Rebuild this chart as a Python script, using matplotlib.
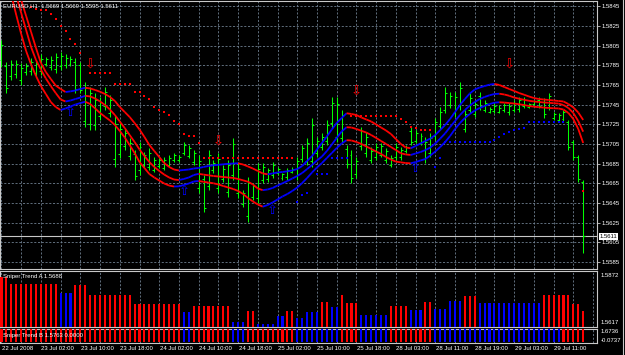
import matplotlib
matplotlib.use("Agg")
import matplotlib.pyplot as plt
import matplotlib.transforms as mtransforms
from matplotlib.collections import LineCollection
from matplotlib.lines import Line2D

# === EURUSD H1, 22 Jul 2008 18:00 .. 29 Jul 17:00 (119 bars) ===
bar_high = [1.5811, 1.5788, 1.5790, 1.5790, 1.5787, 1.5787, 1.5792, 1.5790, 1.5796, 1.5793,
            1.5794, 1.5798, 1.5799, 1.5796, 1.5794, 1.5792, 1.5788, 1.5768, 1.5763, 1.5757,
            1.5753, 1.5763, 1.5755, 1.5734, 1.5726, 1.5721, 1.5711, 1.5699, 1.5707, 1.5697,
            1.5701, 1.5692, 1.5691, 1.5692, 1.5694, 1.5696, 1.5694, 1.5707, 1.5704, 1.5699,
            1.5694, 1.5673, 1.5699, 1.5689, 1.5696, 1.5684, 1.5689, 1.5711, 1.5686, 1.5658,
            1.5671, 1.5665, 1.5686, 1.5686, 1.5681, 1.5687, 1.5682, 1.5675, 1.5681, 1.5682,
            1.5692, 1.5704, 1.5711, 1.5731, 1.5712, 1.5716, 1.5729, 1.5753, 1.5753, 1.5740,
            1.5704, 1.5699, 1.5692, 1.5722, 1.5717, 1.5702, 1.5706, 1.5706, 1.5701, 1.5694,
            1.5706, 1.5702, 1.5704, 1.5722, 1.5719, 1.5716, 1.5712, 1.5716, 1.5731, 1.5743,
            1.5763, 1.5758, 1.5758, 1.5768, 1.5740, 1.5757, 1.5750, 1.5758, 1.5750, 1.5743,
            1.5747, 1.5745, 1.5747, 1.5747, 1.5750, 1.5753, 1.5753, 1.5747, 1.5750, 1.5753,
            1.5752, 1.5757, 1.5737, 1.5736, 1.5740, 1.5729, 1.5709, 1.5694, 1.5668]
bar_low = [1.5783, 1.5757, 1.5770, 1.5772, 1.5765, 1.5775, 1.5775, 1.5773, 1.5775, 1.5784,
           1.5780, 1.5777, 1.5780, 1.5782, 1.5784, 1.5757, 1.5757, 1.5722, 1.5719, 1.5719,
           1.5729, 1.5740, 1.5732, 1.5682, 1.5691, 1.5699, 1.5689, 1.5668, 1.5673, 1.5681,
           1.5678, 1.5676, 1.5681, 1.5678, 1.5682, 1.5687, 1.5687, 1.5694, 1.5691, 1.5684,
           1.5655, 1.5636, 1.5658, 1.5675, 1.5655, 1.5666, 1.5651, 1.5668, 1.5650, 1.5641,
           1.5626, 1.5648, 1.5645, 1.5665, 1.5666, 1.5670, 1.5673, 1.5668, 1.5668, 1.5675,
           1.5668, 1.5687, 1.5684, 1.5682, 1.5692, 1.5699, 1.5704, 1.5721, 1.5707, 1.5706,
           1.5681, 1.5665, 1.5670, 1.5699, 1.5692, 1.5686, 1.5689, 1.5692, 1.5686, 1.5682,
           1.5689, 1.5689, 1.5696, 1.5704, 1.5706, 1.5704, 1.5686, 1.5692, 1.5709, 1.5719,
           1.5736, 1.5742, 1.5732, 1.5740, 1.5717, 1.5736, 1.5732, 1.5740, 1.5737, 1.5736,
           1.5736, 1.5736, 1.5737, 1.5734, 1.5737, 1.5737, 1.5742, 1.5742, 1.5745, 1.5742,
           1.5731, 1.5740, 1.5729, 1.5727, 1.5727, 1.5699, 1.5689, 1.5666, 1.5594]
bar_open = [1.5790, 1.5784, 1.5774, 1.5776, 1.5770, 1.5778, 1.5779, 1.5777, 1.5779, 1.5786,
            1.5783, 1.5781, 1.5784, 1.5785, 1.5786, 1.5788, 1.5785, 1.5728, 1.5725, 1.5724,
            1.5733, 1.5744, 1.5736, 1.5690, 1.5695, 1.5703, 1.5693, 1.5695, 1.5678, 1.5684,
            1.5682, 1.5679, 1.5683, 1.5681, 1.5684, 1.5689, 1.5689, 1.5696, 1.5693, 1.5687,
            1.5660, 1.5669, 1.5662, 1.5678, 1.5660, 1.5669, 1.5656, 1.5673, 1.5655, 1.5644,
            1.5632, 1.5651, 1.5650, 1.5668, 1.5669, 1.5673, 1.5675, 1.5670, 1.5671, 1.5676,
            1.5672, 1.5690, 1.5688, 1.5688, 1.5696, 1.5702, 1.5708, 1.5726, 1.5712, 1.5711,
            1.5700, 1.5694, 1.5674, 1.5703, 1.5696, 1.5689, 1.5692, 1.5694, 1.5689, 1.5684,
            1.5692, 1.5692, 1.5698, 1.5718, 1.5708, 1.5706, 1.5690, 1.5696, 1.5713, 1.5723,
            1.5740, 1.5745, 1.5736, 1.5744, 1.5720, 1.5740, 1.5735, 1.5754, 1.5740, 1.5738,
            1.5739, 1.5738, 1.5740, 1.5737, 1.5740, 1.5741, 1.5744, 1.5743, 1.5746, 1.5750,
            1.5748, 1.5743, 1.5731, 1.5729, 1.5730, 1.5727, 1.5707, 1.5692, 1.5666]
bar_close = [1.5806, 1.5762, 1.5786, 1.5786, 1.5782, 1.5784, 1.5788, 1.5786, 1.5791, 1.5791,
             1.5790, 1.5793, 1.5794, 1.5792, 1.5791, 1.5761, 1.5760, 1.5762, 1.5757, 1.5750,
             1.5748, 1.5758, 1.5750, 1.5725, 1.5720, 1.5716, 1.5706, 1.5672, 1.5702, 1.5694,
             1.5696, 1.5689, 1.5689, 1.5689, 1.5691, 1.5694, 1.5692, 1.5704, 1.5701, 1.5696,
             1.5688, 1.5640, 1.5694, 1.5686, 1.5690, 1.5680, 1.5684, 1.5705, 1.5680, 1.5655,
             1.5665, 1.5662, 1.5680, 1.5682, 1.5678, 1.5684, 1.5680, 1.5674, 1.5678, 1.5680,
             1.5688, 1.5701, 1.5706, 1.5724, 1.5708, 1.5712, 1.5724, 1.5747, 1.5746, 1.5734,
             1.5685, 1.5670, 1.5688, 1.5718, 1.5712, 1.5698, 1.5702, 1.5703, 1.5698, 1.5691,
             1.5702, 1.5699, 1.5702, 1.5707, 1.5716, 1.5713, 1.5707, 1.5711, 1.5727, 1.5738,
             1.5757, 1.5754, 1.5753, 1.5762, 1.5735, 1.5752, 1.5746, 1.5744, 1.5747, 1.5741,
             1.5744, 1.5742, 1.5745, 1.5744, 1.5747, 1.5750, 1.5750, 1.5746, 1.5749, 1.5744,
             1.5735, 1.5754, 1.5735, 1.5734, 1.5737, 1.5702, 1.5692, 1.5669, 1.5611]

# === bands of the trend indicator ===
band_upper = [1.59226, 1.59043, 1.58860, 1.58687, 1.58514, 1.58351, 1.58189, 1.58026, 1.57873, 1.57782,
              1.57711, 1.57644, 1.57609, 1.57578, 1.57585, 1.57594, 1.57609, 1.57622, 1.57614, 1.57599,
              1.57581, 1.57558, 1.57528, 1.57487, 1.57426, 1.57375, 1.57324, 1.57263, 1.57197, 1.57121,
              1.57039, 1.56978, 1.56917, 1.56856, 1.56816, 1.56790, 1.56780, 1.56785, 1.56790, 1.56800,
              1.56805, 1.56816, 1.56826, 1.56833, 1.56838, 1.56843, 1.56848, 1.56851, 1.56853, 1.56841,
              1.56821, 1.56800, 1.56775, 1.56750, 1.56741, 1.56750, 1.56760, 1.56765, 1.56772, 1.56780,
              1.56795, 1.56826, 1.56877, 1.56927, 1.56994, 1.57060, 1.57126, 1.57197, 1.57263, 1.57314,
              1.57362, 1.57355, 1.57344, 1.57319, 1.57299, 1.57278, 1.57248, 1.57217, 1.57187, 1.57151,
              1.57100, 1.57050, 1.57014, 1.57006, 1.57029, 1.57055, 1.57080, 1.57105, 1.57141, 1.57192,
              1.57243, 1.57304, 1.57375, 1.57446, 1.57507, 1.57563, 1.57604, 1.57624, 1.57639, 1.57653,
              1.57660, 1.57650, 1.57629, 1.57609, 1.57589, 1.57568, 1.57551, 1.57533, 1.57517, 1.57507,
              1.57502, 1.57497, 1.57492, 1.57487, 1.57482, 1.57456, 1.57421, 1.57370, 1.57294]
band_mid = [1.59073, 1.58900, 1.58728, 1.58555, 1.58382, 1.58209, 1.58036, 1.57904, 1.57807, 1.57716,
            1.57639, 1.57568, 1.57502, 1.57482, 1.57492, 1.57507, 1.57522, 1.57540, 1.57533, 1.57512,
            1.57482, 1.57446, 1.57400, 1.57344, 1.57278, 1.57212, 1.57141, 1.57070, 1.56994, 1.56927,
            1.56866, 1.56816, 1.56775, 1.56739, 1.56709, 1.56688, 1.56683, 1.56694, 1.56709, 1.56734,
            1.56746, 1.56738, 1.56731, 1.56724, 1.56719, 1.56714, 1.56709, 1.56704, 1.56694, 1.56680,
            1.56666, 1.56638, 1.56597, 1.56580, 1.56587, 1.56602, 1.56627, 1.56650, 1.56673, 1.56699,
            1.56724, 1.56755, 1.56795, 1.56836, 1.56882, 1.56922, 1.56978, 1.57044, 1.57111, 1.57177,
            1.57220, 1.57217, 1.57202, 1.57184, 1.57166, 1.57141, 1.57111, 1.57080, 1.57050, 1.57019,
            1.56988, 1.56955, 1.56943, 1.56938, 1.56953, 1.56968, 1.56988, 1.57014, 1.57055, 1.57105,
            1.57158, 1.57222, 1.57283, 1.57344, 1.57395, 1.57441, 1.57477, 1.57507, 1.57528, 1.57545,
            1.57558, 1.57561, 1.57553, 1.57540, 1.57522, 1.57510, 1.57499, 1.57489, 1.57482, 1.57477,
            1.57472, 1.57469, 1.57464, 1.57461, 1.57446, 1.57416, 1.57365, 1.57283, 1.57175]
band_lower = [1.58972, 1.58768, 1.58565, 1.58361, 1.58168, 1.57995, 1.57858, 1.57741, 1.57639, 1.57558,
              1.57477, 1.57426, 1.57395, 1.57411, 1.57431, 1.57451, 1.57466, 1.57479, 1.57456, 1.57411,
              1.57365, 1.57326, 1.57289, 1.57243, 1.57182, 1.57116, 1.57039, 1.56958, 1.56866, 1.56805,
              1.56744, 1.56709, 1.56678, 1.56648, 1.56627, 1.56617, 1.56619, 1.56633, 1.56648, 1.56668,
              1.56673, 1.56665, 1.56658, 1.56650, 1.56638, 1.56622, 1.56607, 1.56592, 1.56572, 1.56541,
              1.56500, 1.56465, 1.56434, 1.56412, 1.56429, 1.56455, 1.56485, 1.56516, 1.56541, 1.56572,
              1.56607, 1.56653, 1.56704, 1.56760, 1.56811, 1.56856, 1.56907, 1.56958, 1.57009, 1.57055,
              1.57088, 1.57085, 1.57070, 1.57050, 1.57024, 1.56999, 1.56973, 1.56948, 1.56917, 1.56892,
              1.56870, 1.56863, 1.56856, 1.56853, 1.56866, 1.56882, 1.56897, 1.56933, 1.56973, 1.57019,
              1.57070, 1.57131, 1.57202, 1.57263, 1.57314, 1.57355, 1.57390, 1.57416, 1.57436, 1.57456,
              1.57470, 1.57474, 1.57471, 1.57466, 1.57461, 1.57454, 1.57446, 1.57436, 1.57429, 1.57424,
              1.57420, 1.57416, 1.57413, 1.57411, 1.57400, 1.57365, 1.57304, 1.57202, 1.57060]

# === trailing stop dots ===
stop_dn_idx = [6, 7, 8, 9, 10, 11, 12, 13, 14, 15, 16,
               18, 19, 20, 21, 22, 23, 24, 25, 26, 27, 28,
               29, 30, 31, 32, 33, 34, 35, 36, 37, 38, 39, 40,
               41, 42, 43, 44, 45, 46, 47, 48, 49, 50, 51, 52, 53, 54, 55, 56, 57, 58, 59,
               71, 72, 73, 74, 75, 76, 77, 78, 79, 80, 81, 82, 83, 84, 85, 86, 87, 118]
stop_dn = [1.58446, 1.58419, 1.58412, 1.58412, 1.58369, 1.58321, 1.58253, 1.58202, 1.58122, 1.58063, 1.57978,
           1.57775, 1.57775, 1.57775, 1.57775, 1.57775, 1.57657, 1.57657, 1.57657, 1.57657, 1.57575, 1.57575,
           1.57538, 1.57507, 1.57429, 1.57395, 1.57378, 1.57344, 1.57286, 1.57250, 1.57156, 1.57134, 1.57134, 1.57057,
           1.56904, 1.56904, 1.56904, 1.56904, 1.56904, 1.56904, 1.56904, 1.56904, 1.56904, 1.56904,
           1.56904, 1.56904, 1.56904, 1.56904, 1.56904, 1.56904, 1.56904, 1.56904, 1.56904,
           1.57334, 1.57334, 1.57334, 1.57334, 1.57334, 1.57334, 1.57334, 1.57334, 1.57334,
           1.57331, 1.57301, 1.57278, 1.57225, 1.57209, 1.57192, 1.57192, 1.57192, 1.56572]
stop_up_idx = [60, 61, 62, 64, 65, 66, 67, 68, 69, 70,
               88, 89, 90, 91, 92, 93, 94, 95, 96, 97, 98, 99,
               100, 101, 102, 103, 104, 105, 106, 107, 108, 109, 110, 111, 112, 113, 114]
stop_up = [1.56463, 1.56534, 1.56554, 1.56744, 1.56744, 1.56744, 1.56910, 1.56910, 1.56910, 1.56910,
           1.56819, 1.56904, 1.57073, 1.57073, 1.57073, 1.57073, 1.57073, 1.57073, 1.57073, 1.57073, 1.57073, 1.57073,
           1.57090, 1.57118, 1.57151, 1.57169, 1.57192, 1.57202, 1.57215, 1.57276, 1.57276, 1.57276,
           1.57276, 1.57276, 1.57276, 1.57276, 1.57276]

# === signal arrows ===
sell_idx = [18, 44, 72, 103]
sell_px = [1.57853, 1.57073, 1.57581, 1.57853]
buy_idx = [14, 37, 55, 84]
buy_px = [1.57368, 1.56564, 1.56378, 1.56802]

# === sub windows ===
trend_a_val = [1.5846, 1.5846, 1.5812, 1.5812, 1.5812, 1.5812, 1.5812, 1.5812, 1.5812, 1.5812,
               1.5812, 1.5812, 1.5773, 1.5773, 1.5773, 1.5807, 1.5807, 1.5807, 1.5764, 1.5764,
               1.5764, 1.5764, 1.5764, 1.5764, 1.5764, 1.5764, 1.5764, 1.5719, 1.5719, 1.5719,
               1.5719, 1.5719, 1.5719, 1.5719, 1.5719, 1.5719, 1.5719, 1.5683, 1.5683, 1.5710,
               1.5710, 1.5710, 1.5710, 1.5710, 1.5710, 1.5710, 1.5710, 1.5639, 1.5639, 1.5639,
               1.5686, 1.5686, 1.5627, 1.5627, 1.5627, 1.5627, 1.5665, 1.5665, 1.5688, 1.5688,
               1.5657, 1.5657, 1.5682, 1.5682, 1.5682, 1.5728, 1.5728, 1.5705, 1.5705, 1.5762,
               1.5725, 1.5725, 1.5725, 1.5668, 1.5668, 1.5668, 1.5668, 1.5668, 1.5668, 1.5710,
               1.5710, 1.5710, 1.5710, 1.5691, 1.5691, 1.5691, 1.5728, 1.5728, 1.5699, 1.5699,
               1.5699, 1.5733, 1.5733, 1.5733, 1.5756, 1.5756, 1.5756, 1.5725, 1.5725, 1.5725,
               1.5725, 1.5725, 1.5725, 1.5725, 1.5725, 1.5725, 1.5725, 1.5725, 1.5725, 1.5725,
               1.5761, 1.5761, 1.5761, 1.5761, 1.5761, 1.5761, 1.5722, 1.5722, 1.5688]
trend_a_dir = ("dddddddddddd" "uuu" "dddddddddddddddddddddd" "uu" "dddddddd" "uuu" "dd"
               "uuuuuu" "dd" "uuuuu" "dd" "uu" "dddd" "uuuuuu" "dddd" "uuu" "dd" "uuuuuu"
               "ddd" "uuuuuuuuuuuuu" "ddddddddd")
trend_b_dir = ("ddddddddddddddddddddddddddddddddddddd" "uu" "dddddddd" "uuu" "dddddddddd"
               "uuuuuuuuu" "dddd" "uuuuuu" "ddddddddd" "uuuuuuuuuuuuuuuuuuuuuuuuuu" "ddddd")

price_levels = [1.5585, 1.5605, 1.5625, 1.5645, 1.5665, 1.5685, 1.5705, 1.5725,
                1.5745, 1.5765, 1.5785, 1.5805, 1.5825, 1.5845]
time_idx = [0, 8, 16, 24, 32, 40, 48, 56, 64, 72, 80, 88, 96, 104, 112]
time_labels = ["22 Jul 2008", "23 Jul 02:00", "23 Jul 10:00", "23 Jul 18:00", "24 Jul 02:00",
               "24 Jul 10:00", "24 Jul 18:00", "25 Jul 02:00", "25 Jul 10:00", "25 Jul 18:00",
               "28 Jul 03:00", "28 Jul 11:00", "28 Jul 19:00", "29 Jul 03:00", "29 Jul 11:00"]

# === estilo ===
RED, BLUE, LIME = "#ff0000", "#0000ff", "#00ff00"
GRID = "#6f7f90"
FRAME = "#c8c8c8"
FS = 4.3
plt.rcParams["font.family"] = ["Liberation Sans", "DejaVu Sans"]

W, H = 625, 355
fig = plt.figure(figsize=(W / 100, H / 100), dpi=100, facecolor="black")

def axes_px(x0, y0, x1, y1):
    return fig.add_axes([x0 / W, 1 - y1 / H, (x1 - x0) / W, (y1 - y0) / H])

ax = axes_px(0, 1, 597, 269)
ax1 = axes_px(0, 271, 597, 326.5)
ax2 = axes_px(0, 328.5, 597, 343)
n = len(bar_close)
xs = list(range(n))

for a in (ax, ax1, ax2):
    a.set_facecolor("black")
    a.set_xlim(-0.3, 120.8)
    for s in a.spines.values():
        s.set_color(FRAME)
        s.set_linewidth(0.8)
    a.tick_params(left=False, bottom=False, labelleft=False, labelbottom=False)
    for gx in range(0, 121, 4):
        a.axvline(gx, color=GRID, lw=0.6, ls=(0, (2.5, 2)), zorder=0)

# --- main window ---
ax.set_ylim(1.55778, 1.58504)
for lv in price_levels:
    ax.axhline(lv, color=GRID, lw=0.6, ls=(0, (2.5, 2)), zorder=0)
ax.yaxis.tick_right()
ax.set_yticks(price_levels)
ax.set_yticklabels([f"{v:.4f}" for v in price_levels])
ax.tick_params(axis="y", right=True, labelright=True, length=2, width=0.6,
               color=FRAME, labelcolor="white", labelsize=FS, pad=1.5)

# price bars
ax.vlines(xs, bar_low, bar_high, color=LIME, lw=0.75, zorder=3)
ax.hlines(bar_open, [x - 0.4 for x in xs], xs, color=LIME, lw=0.75, zorder=3)
ax.hlines(bar_close, xs, [x + 0.4 for x in xs], color=LIME, lw=0.75, zorder=3)

# bands coloured by slope
for band in (band_upper, band_mid, band_lower):
    segs, cols = [], []
    for i in range(1, n):
        segs.append([(i - 1, band[i - 1]), (i, band[i])])
        cols.append(BLUE if band[i] > band[i - 1] else RED)
    ax.add_collection(LineCollection(segs, colors=cols, linewidths=1.3, zorder=4))

ax.plot(stop_dn_idx, stop_dn, "s", color=RED, ms=1.6, mew=0, zorder=5)
ax.plot(stop_up_idx, stop_up, "s", color=BLUE, ms=1.6, mew=0, zorder=5)

for i, p in zip(sell_idx, sell_px):
    ax.text(i, p, "\u21e9", color=RED, fontsize=9.5, ha="center", va="center",
            family="DejaVu Sans", zorder=6)
for i, p in zip(buy_idx, buy_px):
    ax.text(i, p, "\u21e7", color=BLUE, fontsize=9.5, ha="center", va="center",
            family="DejaVu Sans", zorder=6)

# current price line + label
last = bar_close[-1]
ax.axhline(last, color=FRAME, lw=0.8, zorder=2)
ax.text(1.004, last, f"{last:.4f}", transform=ax.get_yaxis_transform(),
        color="black", fontsize=FS, va="center", ha="left",
        bbox=dict(fc="white", ec="none", pad=0.6), zorder=7, clip_on=False)

fig.text(3 / W, 1 - 6 / H, "EURUSD,H1  1.5669 1.5669 1.5595 1.5611",
         color="white", fontsize=FS, va="center", ha="left")

# --- Sniper Trend A ---
ya0, ya1 = 1.5617, 1.5872
ax1.set_ylim(ya0, ya1)
ax1.bar(xs, [v - ya0 for v in trend_a_val], bottom=ya0, width=0.42,
        color=[RED if d == "d" else BLUE for d in trend_a_dir], zorder=3)
ax1.text(0.005, 0.94, f"Sniper Trend A {trend_a_val[-1]:.4f}", transform=ax1.transAxes,
         color="white", fontsize=FS, va="top", ha="left", zorder=6)
ax1.text(1.006, 0.97, f"{ya1:.4f}", transform=ax1.transAxes, color="white",
         fontsize=FS, va="top", ha="left")
ax1.text(1.006, 0.03, f"{ya0:.4f}", transform=ax1.transAxes, color="white",
         fontsize=FS, va="bottom", ha="left")

# --- Sniper Trend B ---
yb0, yb1 = -0.0737, 1.6736
ax2.set_ylim(yb0, yb1)
ax2.bar(xs, trend_a_val, width=0.42,
        color=[RED if d == "d" else BLUE for d in trend_b_dir], zorder=3)
ax2.text(0.005, 0.55, "Sniper Trend B 1.5763 0.0000", transform=ax2.transAxes,
         color="white", fontsize=FS, va="center", ha="left", zorder=6)
ax2.text(1.006, 0.98, f"{yb1:.4f}", transform=ax2.transAxes, color="white",
         fontsize=FS, va="top", ha="left")
ax2.text(1.006, 0.0, f"{yb0:.4f}", transform=ax2.transAxes, color="white",
         fontsize=FS, va="bottom", ha="left")

# time labels under the last window
tlab = mtransforms.blended_transform_factory(ax2.transData, fig.transFigure)
for i, lab in zip(time_idx, time_labels):
    ax2.text(i + 0.1, 1 - 349 / H, lab, transform=tlab, color="white",
             fontsize=FS, va="center", ha="left", clip_on=False)

fig.add_artist(Line2D([623 / W, 623 / W], [0, 1], transform=fig.transFigure,
                      color=FRAME, lw=0.8))

fig.savefig("out.png", dpi=100, facecolor="black")
